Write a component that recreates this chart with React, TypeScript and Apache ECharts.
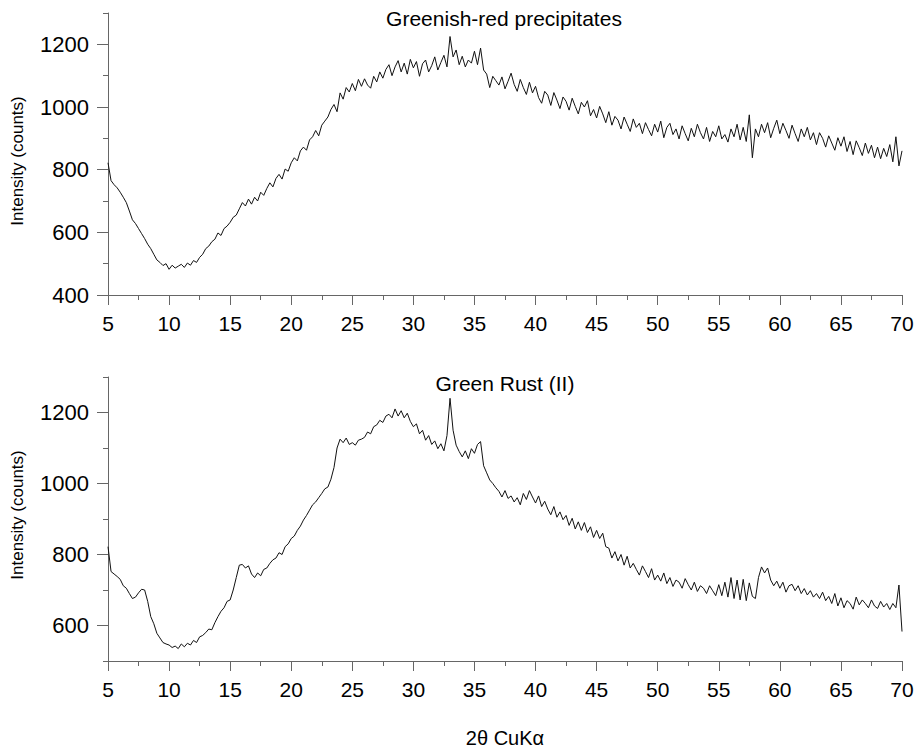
import React, { useEffect, useRef } from "react";
import * as echarts from "echarts";

// 2θ scan: starts at 5°, 0.25° step, ends at 70°
const X_START = 5;
const X_STEP = 0.25;
const X_TICKS = [5, 10, 15, 20, 25, 30, 35, 40, 45, 50, 55, 60, 65, 70];

const TOP_TITLE = "Greenish-red precipitates";
const BOTTOM_TITLE = "Green Rust (II)";
const Y_NAME = "Intensity (counts)";
const X_NAME = "2θ CuKα";

const TOP_Y_LABELS = [400, 600, 800, 1000, 1200];
const BOTTOM_Y_LABELS = [600, 800, 1000, 1200];

// Greenish-red precipitates (counts)
const topCounts = [
  822, 765, 752, 742,
  728, 712, 695, 668,
  640, 628, 612, 596,
  580, 562, 548, 530,
  512, 504, 494, 500,
  482, 495, 486, 492,
  498, 488, 502, 495,
  510, 504, 520, 530,
  548, 556, 570, 578,
  598, 590, 612, 620,
  632, 648, 655, 675,
  695, 684, 706, 690,
  712, 700, 728, 718,
  740, 758, 745, 772,
  785, 770, 802, 795,
  822, 838, 828, 860,
  872, 862, 895, 905,
  925, 908, 942, 955,
  968, 992, 1008, 985,
  1045, 1025, 1062, 1048,
  1075, 1052, 1088, 1066,
  1090, 1070, 1060, 1098,
  1080, 1112, 1092, 1120,
  1135, 1100, 1128, 1148,
  1112, 1140, 1105, 1152,
  1125, 1145, 1098, 1138,
  1150, 1112, 1132, 1160,
  1118, 1142, 1165, 1128,
  1225, 1160, 1182, 1135,
  1162, 1128, 1150, 1140,
  1178, 1135, 1188, 1118,
  1105, 1062, 1098, 1084,
  1070, 1096, 1058, 1082,
  1108, 1072, 1050, 1088,
  1062, 1040, 1079, 1045,
  1066, 1030, 1012, 1050,
  1038, 1005, 1046, 1022,
  995, 1032, 1018, 990,
  1028, 1002, 978, 1015,
  1000, 1020, 972, 992,
  965, 1002, 978, 950,
  985, 942, 970, 958,
  930, 968, 945, 922,
  962, 935, 948, 915,
  950, 928, 908, 945,
  920, 955, 902, 935,
  948, 912, 930, 898,
  940, 915, 892, 932,
  905, 945, 918, 898,
  935, 890, 922, 905,
  940, 898, 912, 888,
  930, 905, 945, 895,
  935, 890, 975, 838,
  930, 905, 945, 918,
  950, 902, 932, 958,
  915, 948, 925, 900,
  942, 915, 890, 930,
  905, 935, 895, 918,
  880, 918, 900, 872,
  908, 885, 862, 902,
  875, 905, 858, 890,
  848, 892, 870, 845,
  885, 852, 878, 838,
  872, 835, 868, 842,
  880, 825, 905, 812,
  860,
];

// Green Rust (II) (counts)
const bottomCounts = [
  822, 752, 745, 738,
  730, 712, 705, 690,
  676, 680, 692, 702,
  700, 668, 625, 605,
  578, 565, 552, 548,
  545, 538, 542, 535,
  548, 540, 550, 545,
  558, 552, 568, 572,
  580, 590, 588, 608,
  625, 640, 650, 668,
  672, 700, 735, 770,
  772, 762, 768, 745,
  735, 748, 740, 758,
  762, 775, 785, 790,
  805, 800, 822, 830,
  845, 852, 868, 880,
  897, 910, 925, 940,
  948, 960, 972, 985,
  990, 1012, 1045, 1100,
  1125, 1115, 1128, 1110,
  1115, 1108, 1122, 1125,
  1130, 1145, 1140, 1160,
  1165, 1178, 1172, 1190,
  1195, 1185, 1210, 1190,
  1205, 1185, 1198, 1175,
  1160, 1168, 1140, 1150,
  1122, 1135, 1110, 1120,
  1098, 1112, 1092, 1135,
  1240, 1150, 1108, 1090,
  1075, 1092, 1070, 1098,
  1085, 1110, 1118, 1050,
  1030, 1010, 1000, 988,
  978, 962, 980, 958,
  965, 948, 960, 940,
  972, 955, 980, 962,
  945, 965, 935, 950,
  928, 912, 935, 905,
  920, 898, 910, 882,
  902, 872, 892, 868,
  890, 862, 878, 848,
  868, 845, 860, 822,
  818, 790, 808, 782,
  800, 770, 795, 762,
  775, 758, 742, 768,
  752, 735, 760, 728,
  742, 725, 748, 718,
  735, 710, 728, 722,
  705, 732, 715, 700,
  722, 696, 712, 705,
  690, 712, 698, 684,
  715, 684, 722, 680,
  735, 676, 728, 672,
  730, 670, 720, 682,
  676, 735, 765, 748,
  762, 728, 712, 725,
  705, 722, 694, 712,
  716, 698, 712, 690,
  704, 686, 698, 680,
  690, 676, 694, 670,
  682, 662, 690, 655,
  678, 650, 670, 662,
  646, 680, 658, 672,
  662, 650, 672, 655,
  648, 668, 652, 662,
  645, 662, 650, 714,
  583,
];

const FONT = "'Liberation Sans', Arial, Helvetica, sans-serif";
const AXIS_COLOR = "#666";

function toPairs(vals: number[]) {
  return vals.map((v, i) => [X_START + i * X_STEP, v]);
}

function xAxis(gridIndex: number) {
  return {
    type: "value",
    gridIndex,
    min: X_TICKS[0],
    max: X_TICKS[X_TICKS.length - 1],
    interval: 5,
    axisLine: { show: true, lineStyle: { color: AXIS_COLOR, width: 1 } },
    axisTick: { show: true, length: 10, lineStyle: { color: AXIS_COLOR } },
    minorTick: { show: true, splitNumber: 2, length: 5, lineStyle: { color: AXIS_COLOR } },
    splitLine: { show: false },
    minorSplitLine: { show: false },
    axisLabel: { color: "#000", fontSize: 21, fontFamily: FONT, margin: 18, formatter: (v: number) => String(v) },
  };
}

function yAxes(gridIndex: number, min: number, max: number, labels: number[]) {
  return [
    {
      type: "value",
      gridIndex,
      position: "left",
      min,
      max,
      interval: 100,
      axisLine: { show: true, lineStyle: { color: AXIS_COLOR, width: 1 } },
      axisTick: { show: true, length: 5, lineStyle: { color: AXIS_COLOR } },
      axisLabel: { show: false },
      splitLine: { show: false },
    },
    {
      type: "value",
      gridIndex,
      position: "left",
      min,
      max,
      interval: 100,
      axisLine: { show: false },
      axisTick: { show: true, length: 11, customValues: labels, lineStyle: { color: AXIS_COLOR } },
      axisLabel: {
        show: true,
        customValues: labels,
        color: "#000",
        fontSize: 22,
        fontFamily: FONT,
        margin: 19,
        formatter: (v: number) => String(v),
      },
      splitLine: { show: false },
    },
  ];
}

export default function App() {
  const ref = useRef<HTMLDivElement>(null);
  useEffect(() => {
    if (!ref.current) return;
    const chart = echarts.init(ref.current, null, { renderer: "svg" });
    const textStyle = (size: number) => ({ fontSize: size, fontFamily: FONT, fill: "#000" });
    chart.setOption({
      animation: false,
      backgroundColor: "#fff",
      grid: [
        { left: 108, top: 13, width: 794, height: 282 },
        { left: 108, top: 377, width: 794, height: 284 },
      ],
      xAxis: [xAxis(0), xAxis(1)],
      yAxis: [
        ...yAxes(0, 400, 1300, TOP_Y_LABELS),
        ...yAxes(1, 500, 1300, BOTTOM_Y_LABELS),
      ],
      series: [
        {
          type: "line",
          name: TOP_TITLE,
          xAxisIndex: 0,
          yAxisIndex: 0,
          data: toPairs(topCounts),
          showSymbol: false,
          lineStyle: { color: "#111", width: 1 },
        },
        {
          type: "line",
          name: BOTTOM_TITLE,
          xAxisIndex: 1,
          yAxisIndex: 2,
          data: toPairs(bottomCounts),
          showSymbol: false,
          lineStyle: { color: "#111", width: 1 },
        },
      ],
      graphic: [
        { type: "text", x: 504, y: 18, style: { ...textStyle(21), text: TOP_TITLE, textAlign: "center", textVerticalAlign: "middle" } },
        { type: "text", x: 505, y: 383, style: { ...textStyle(21), text: BOTTOM_TITLE, textAlign: "center", textVerticalAlign: "middle" } },
        { type: "text", x: 17, y: 161, rotation: Math.PI / 2, style: { ...textStyle(17), text: Y_NAME, textAlign: "center", textVerticalAlign: "middle" } },
        { type: "text", x: 17, y: 515, rotation: Math.PI / 2, style: { ...textStyle(17), text: Y_NAME, textAlign: "center", textVerticalAlign: "middle" } },
        { type: "text", x: 505, y: 738, style: { ...textStyle(20), text: X_NAME, textAlign: "center", textVerticalAlign: "middle" } },
      ],
    });
    return () => chart.dispose();
  }, []);
  return (
    <div
      ref={ref}
      style={{ position: "fixed", left: 0, top: 0, width: 919, height: 748, background: "#fff" }}
    />
  );
}
